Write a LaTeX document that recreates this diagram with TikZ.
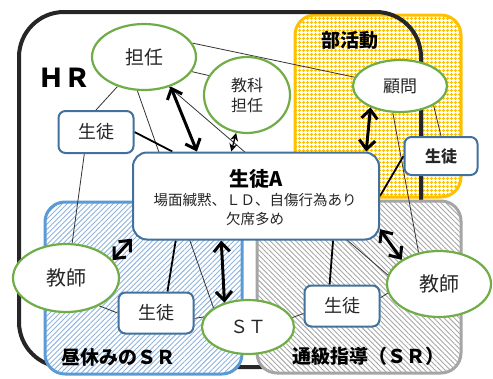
\documentclass[tikz,border=0pt]{standalone}
\usepackage{fontspec}
\setmainfont{Noto Sans CJK JP}
\usetikzlibrary{shapes.geometric,arrows.meta,patterns.meta}
\definecolor{grn}{HTML}{70AD47}
\definecolor{nblue}{HTML}{41719C}
\definecolor{rblue}{HTML}{5B9BD5}
\definecolor{hblue}{HTML}{8FB4DE}
\definecolor{rgrey}{HTML}{A5A5A5}
\definecolor{hgrey}{HTML}{A8A8A8}
\definecolor{yel}{HTML}{FFC000}
\definecolor{txt}{HTML}{262626}
\newcommand\fsz[1]{\fontsize{#1}{#1}\selectfont}
\pgfdeclarelayer{regions}
\pgfdeclarelayer{links}
\pgfsetlayers{regions,links,main}
\begin{document}
\begin{tikzpicture}[x=1pt,y=-1pt,
  oval/.style={ellipse, draw=grn, line width=2.2pt, fill=white, inner sep=0pt, text=txt},
  pupil/.style={rectangle, rounded corners=7pt, draw=nblue, line width=2pt, fill=white, inner sep=0pt, text=txt},
  region/.style={line width=3pt, rounded corners=20pt, preaction={fill=white}},
  rlabel/.style={font=\fsz{19}\bfseries, text=black, inner sep=0pt},
  thin link/.style={draw=black!80, line width=0.8pt},
  mid link/.style={draw=black, line width=1.8pt},
  big arrow/.style={draw=black, line width=3pt, {Straight Barb[length=9pt,width=16pt]}-{Straight Barb[length=9pt,width=16pt]}},
  small arrow/.style={draw=black, line width=1.3pt, {Stealth[open,length=8pt,width=8pt]}-{Stealth[open,length=8pt,width=8pt]}}
]
\useasboundingbox (0,0) rectangle (493,378);

% nodes
\node[oval, minimum width=104pt, minimum height=66pt, font=\fsz{19}] (tannin) at (144,57) {担任};
\node[oval, minimum width=86pt, minimum height=76pt, font=\fontsize{16}{20}\selectfont, align=center] (kyoka) at (247,95) {教科\\担任};
\node[oval, minimum width=94pt, minimum height=52pt, font=\fsz{17}] (komon) at (400,86) {顧問};
\node[oval, minimum width=106pt, minimum height=68pt, font=\fsz{20}] (kyoshiL) at (66,278) {教師};
\node[oval, minimum width=104pt, minimum height=66pt, font=\fsz{20}] (kyoshiR) at (439,284) {教師};
\node[oval, minimum width=92pt, minimum height=54pt, font=\fsz{18}] (st) at (248,327) {ＳＴ};
\node[pupil, minimum width=75pt, minimum height=42pt, font=\fsz{18}] (pTL) at (96,132) {生徒};
\node[pupil, minimum width=73pt, minimum height=38pt, font=\fsz{16}\bfseries] (pR) at (441,156) {生徒};
\node[pupil, minimum width=75pt, minimum height=41pt, font=\fsz{18}] (pBL) at (156,313) {生徒};
\node[pupil, minimum width=75pt, minimum height=41pt, font=\fsz{18}] (pBR) at (342,306) {生徒};
\node[pupil, rounded corners=14pt, minimum width=246pt, minimum height=87pt] (A) at (256,196) {};
\node[font=\fsz{20}\bfseries, text=black, inner sep=0pt] (Aname) at (256,179) {生徒A};
\node[font=\fsz{14.5}, text=txt, inner sep=0pt] (Adesc) at (255,200) {場面緘黙、ＬＤ、自傷行為あり};
\node[font=\fsz{14.5}, text=txt, inner sep=0pt] (Adesc2) at (255,219) {欠席多め};

\node[font=\fsz{26}\bfseries, text=black, inner sep=0pt] (hr) at (64,78) {ＨＲ};
\node[rlabel] (club) at (350,40) {部活動};
\node[rlabel] (lunch) at (118,357) {昼休みのＳＲ};
\node[rlabel] (tsukyu) at (368,356) {通級指導（ＳＲ）};

\begin{pgfonlayer}{regions}
\draw[region, draw=yel, pattern={Hatch[angle=0,distance=4pt,line width=1.2pt]}, pattern color=yel] (295,15) rectangle (461,197);
\draw[line width=4pt, draw=black!85, rounded corners=45pt] (19,12) rectangle (421,367);
\draw[region, draw=rblue, pattern={Lines[angle=45,distance=3.6pt,line width=0.9pt]}, pattern color=hblue] (45,202) rectangle (242,374);
\draw[region, draw=rgrey, pattern={Lines[angle=-45,distance=3.6pt,line width=0.9pt]}, pattern color=hgrey] (257,201) rectangle (461,373);
\end{pgfonlayer}

\begin{pgfonlayer}{links}
\draw[thin link] (tannin.16) -- (komon.169);
\draw[thin link] (tannin.-17) -- (kyoka.153);
\draw[thin link] (tannin.-132) -- (pTL.north);
\draw[thin link] (tannin.-101) -- (st.151);
\draw[thin link] (tannin.-50) -- (kyoshiR.170);
\draw[thin link] (komon.-30) -- (pR.north);
\draw[thin link] (komon.-105) -- (kyoshiR.123);
\draw[thin link] (pTL.-118) -- (kyoshiL.80);
\draw[thin link] (kyoshiL.-40) -- (pBL.west);
\draw[thin link] (pBL.-8) -- (st.167);
\draw[thin link] (st.12) -- (pBR.-169);
\draw[thin link] (pBR.12) -- (kyoshiR.-170);
\draw[mid link] (pTL.east) -- (A.152);
\draw[mid link] (pR.west) -- (A.east);
\draw[mid link] (pBL.62) -- (A.-151);
\draw[mid link] (pBR.120) -- (A.-30.5);
\end{pgfonlayer}

\draw[big arrow] (tannin.-48) -- (A.143);
\draw[big arrow] (komon.-144) -- (A.22);
\draw[big arrow] (kyoshiL.21) -- (A.199);
\draw[big arrow] (st.134) -- (A.-128);
\draw[big arrow] (kyoshiR.147) -- (A.-15);
\draw[small arrow] (kyoka.-106) -- (A.119);
\end{tikzpicture}
\end{document}
